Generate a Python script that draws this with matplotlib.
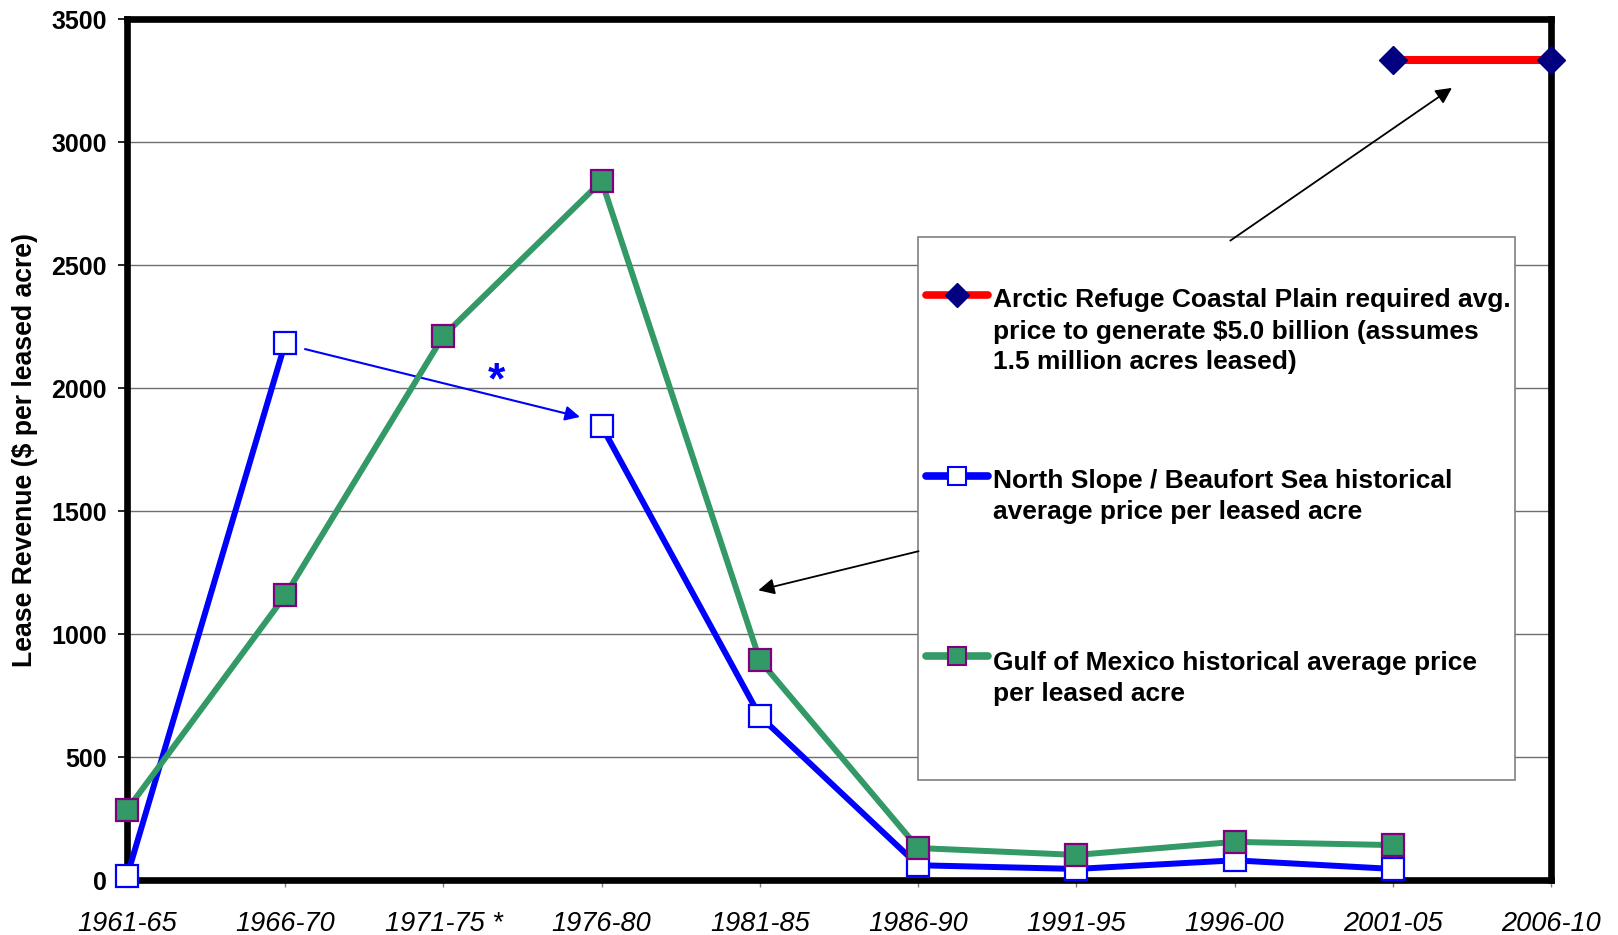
import numpy as np
import matplotlib
matplotlib.use("Agg")
import matplotlib.pyplot as plt
from matplotlib.lines import Line2D
from matplotlib.patches import Rectangle

plt.rcParams['font.family'] = ['Liberation Sans', 'DejaVu Sans']

# Five-year lease sale periods
periods = ["1961-65", "1966-70", "1971-75 *", "1976-80", "1981-85",
           "1986-90", "1991-95", "1996-00", "2001-05", "2006-10"]

# $ per leased acre
north_slope = [15, 2184, np.nan, 1845, 666, 60, 45, 80, 45, np.nan]
gulf_mexico = [285, 1157, 2213, 2842, 893, 130, 102, 155, 142, np.nan]
arctic_required = [np.nan] * 8 + [5.0e9 / 1.5e6, 5.0e9 / 1.5e6]

label_arctic = ["Arctic Refuge Coastal Plain required avg.",
                "price to generate \\$5.0 billion (assumes",
                "1.5 million acres leased)"]
label_north = ["North Slope / Beaufort Sea historical",
               "average price per leased acre"]
label_gulf = ["Gulf of Mexico historical average price",
              "per leased acre"]

BLUE = "#0000FF"
GREEN = "#339966"
PURPLE = "#800080"
RED = "#FF0000"
NAVY = "#000080"

W, H = 1618, 935
fig = plt.figure(figsize=(W / 100, H / 100), dpi=100)
L, R, T, B = 127, 1551, 19.3, 880
ax = fig.add_axes([L / W, 1 - B / H, (R - L) / W, (B - T) / H])

x = np.arange(len(periods))

ax.set_xlim(0, len(periods) - 1)
ax.set_ylim(0, 3500)
ax.set_yticks(np.arange(0, 3501, 500))
ax.set_xticks(x)
ax.set_xticklabels(periods, fontsize=19.5, fontstyle='italic')
ax.tick_params(axis='y', direction='out', length=6.5, width=1.2, pad=8,
               labelsize=18)
for lab in ax.get_yticklabels():
    lab.set_fontweight('bold')
ax.tick_params(axis='x', direction='out', length=5, width=1.0,
               color='#808080', pad=17.5)

ax.yaxis.grid(True, color='#6e6e6e', linewidth=1.0)
ax.set_axisbelow(True)
for s in ax.spines.values():
    s.set_linewidth(4.8)
    s.set_color('black')
    s.set_zorder(3)

ax.set_ylabel("Lease Revenue (\\$ per leased acre)", fontsize=19.2,
              fontweight='bold', va='center')
ax.yaxis.set_label_coords((25 - L) / (R - L), 0.5)

ax.plot(x, north_slope, color=BLUE, lw=4.3, marker='s', ms=16,
        mfc='white', mec=BLUE, mew=1.6, zorder=4, clip_on=False)
ax.plot(x, gulf_mexico, color=GREEN, lw=4.3, marker='s', ms=16,
        mfc=GREEN, mec=PURPLE, mew=1.6, zorder=5, clip_on=False)
ax.plot(x, arctic_required, color=RED, lw=5.8, marker='D', ms=14,
        mfc=NAVY, mec=NAVY, zorder=6, clip_on=False)

# Note linking the 1966-70 and 1976-80 North Slope sales
ax.annotate("", xy=(2.863, 1883), xytext=(1.125, 2159),
            arrowprops=dict(arrowstyle='-|>', color=BLUE, lw=1.5,
                            mutation_scale=22, shrinkA=0, shrinkB=0))
ax.text(2.333, 1980, "*", color=BLUE, fontsize=32, fontweight='bold',
        ha='center', va='baseline')


def fx(px):
    return (px - L) / (R - L)


def fy(py):
    return (B - py) / (B - T)


# Key box
box = Rectangle((fx(918), fy(780)), fx(1515) - fx(918), fy(237) - fy(780),
                transform=ax.transAxes, facecolor='white', edgecolor='#808080',
                linewidth=1.2, zorder=7)
ax.add_patch(box)

ax.annotate("", xy=(8.374, 3221), xytext=(6.973, 2600),
            arrowprops=dict(arrowstyle='-|>', color='black', lw=1.3,
                            mutation_scale=24, shrinkA=0, shrinkB=0),
            zorder=8)
ax.annotate("", xy=(3.99, 1178), xytext=(5.003, 1337),
            arrowprops=dict(arrowstyle='-|>', color='black', lw=1.3,
                            mutation_scale=24, shrinkA=0, shrinkB=0),
            zorder=8)

entries = [
    (label_arctic, 295, dict(color=RED, lw=5.5, marker='D', ms=12,
                             mfc=NAVY, mec=NAVY), 298),
    (label_north, 475.7, dict(color=BLUE, lw=5.5, marker='s', ms=13,
                              mfc='white', mec=BLUE, mew=1.5), 478.8),
    (label_gulf, 656.3, dict(color=GREEN, lw=5.5, marker='s', ms=13,
                             mfc=GREEN, mec=PURPLE, mew=1.5), 660.4),
]
for lines, hy, style, ty in entries:
    ln = Line2D([fx(926), fx(988)], [fy(hy), fy(hy)], transform=ax.transAxes,
                solid_capstyle='round', markevery=[], zorder=8, **style)
    ax.add_line(ln)
    ax.add_line(Line2D([fx(957)], [fy(hy)], transform=ax.transAxes,
                       linestyle='none', zorder=9,
                       **{k: v for k, v in style.items()
                          if k not in ('color', 'lw')}))
    for i, t in enumerate(lines):
        ax.text(fx(993), fy(ty + 31 * i + 9.5), t, transform=ax.transAxes,
                fontsize=19, fontweight='bold', ha='left', va='baseline',
                zorder=9)

fig.savefig("out.png", dpi=100)
